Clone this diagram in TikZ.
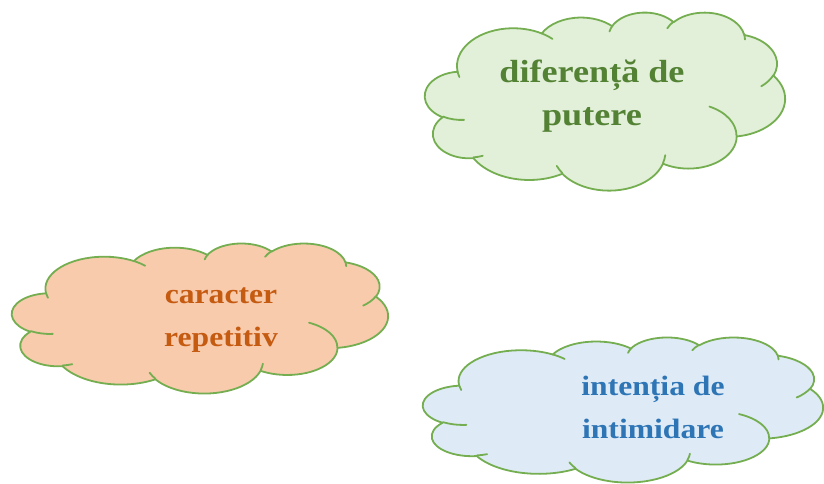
\documentclass[tikz,border=0pt]{standalone}
\usepackage{fontspec}
\setmainfont{Liberation Serif}[FakeStretch=1.13]
\definecolor{cloudline}{HTML}{74AE50}
\definecolor{gfill}{HTML}{E2F0D9}
\definecolor{ofill}{HTML}{F8CBAD}
\definecolor{bfill}{HTML}{DEEBF7}
\definecolor{gtext}{HTML}{548235}
\definecolor{otext}{HTML}{C55A11}
\definecolor{btext}{HTML}{2E75B6}
% cloud outline (path units 0..432, y down), angles are visual angles
\gdef\cloudouter{}
\foreach \wr/\hr/\st/\sw in {
  67.53/91.90/-190.48748/123.78053,
  53.33/72.67/-144.10238/89.94523,
  43.65/59.45/-145.80792/99.72302,
  48.57/65.95/-130.98607/117.24173,
  53.33/72.73/-78.70888/109.02692,
  67.75/92.20/-46.26725/130.26900,
  57.85/78.67/0.62502/114.03333,
  67.52/92.15/22.45160/115.17255,
  77.20/105.43/66.24263/75.71102,
  43.60/59.18/-274.94208/146.73557,
  43.45/59.45/-246.82850/152.51885}{%
  \pgfmathsetmacro\ts{atan2(\wr*sin(\st),\hr*cos(\st))}%
  \pgfmathsetmacro\te{atan2(\wr*sin(\st+\sw),\hr*cos(\st+\sw))}%
  \pgfmathsetmacro\dl{mod(\te-\ts+720,360)}%
  \xdef\cloudouter{\cloudouter arc[start angle=\ts,delta angle=\dl,x radius=\wr,y radius=\hr]}%
}
\gdef\cloudinner{}
\foreach \px/\py/\wr/\hr/\st/\sw in {
  46.93/261.77/43.45/59.45/86.74200/26.42950,
  69.28/348.99/43.60/59.18/73.61047/11.44747,
  164.78/390.90/67.52/92.15/137.62415/14.08110,
  288.27/347.51/67.52/92.15/6.45327/15.99835,
  341.29/229.54/57.85/78.67/-70.29235/70.91737,
  417.98/153.54/53.33/72.73/30.31803/27.75150,
  383.24/54.26/48.57/65.95/-13.74433/14.85890,
  290.78/39.52/48.57/65.95/-149.18145/18.19537,
  221.41/47.20/43.65/59.45/-163.49427/17.68635,
  140.00/51.92/67.53/91.90/-66.70695/12.31935,
  41.27/157.89/67.53/91.90/157.65435/11.85817}{%
  \pgfmathsetmacro\ts{atan2(\wr*sin(\st),\hr*cos(\st))}%
  \pgfmathsetmacro\te{atan2(\wr*sin(\st+\sw),\hr*cos(\st+\sw))}%
  \pgfmathsetmacro\dl{mod(\te-\ts+720,360)}%
  \xdef\cloudinner{\cloudinner (\px,\py) arc[start angle=\ts,delta angle=\dl,x radius=\wr,y radius=\hr]}%
}
\newcommand\drawcloud[5]{%
  \pgfmathsetlengthmacro\cux{#3/432}%
  \pgfmathsetlengthmacro\cuy{-#4/432}%
  \begin{scope}[shift={(#1,#2)},x=\cux,y=\cuy]
    \path[cloudbody,fill=#5] (39.00,143.70) \cloudouter -- cycle;
    \path[cloudbody] \cloudinner;
  \end{scope}}
\tikzset{
  cloudbody/.style={draw=cloudline,line width=1.8pt,line join=round,line cap=round},
  cloudtext/.style={align=center,inner sep=0pt,font=\bfseries\fontsize{28}{43}\selectfont},
}
\begin{document}
\begin{tikzpicture}[x=1pt,y=-1pt]
\useasboundingbox (0,0) rectangle (824,483);
\drawcloud{425}{12}{360}{178}{gfill}
\drawcloud{12}{243}{376}{150}{ofill}
\drawcloud{423}{337}{400}{145}{bfill}
\node[cloudtext,text=gtext,font=\bfseries\fontsize{32}{43}\selectfont] (putere) at (592,96) {diferență de\\putere};
\node[cloudtext,text=otext] (repetitiv) at (221,320) {caracter\\repetitiv};
\node[cloudtext,text=btext] (intimidare) at (653,407) {intenția de\\intimidare};
\end{tikzpicture}
\end{document}
